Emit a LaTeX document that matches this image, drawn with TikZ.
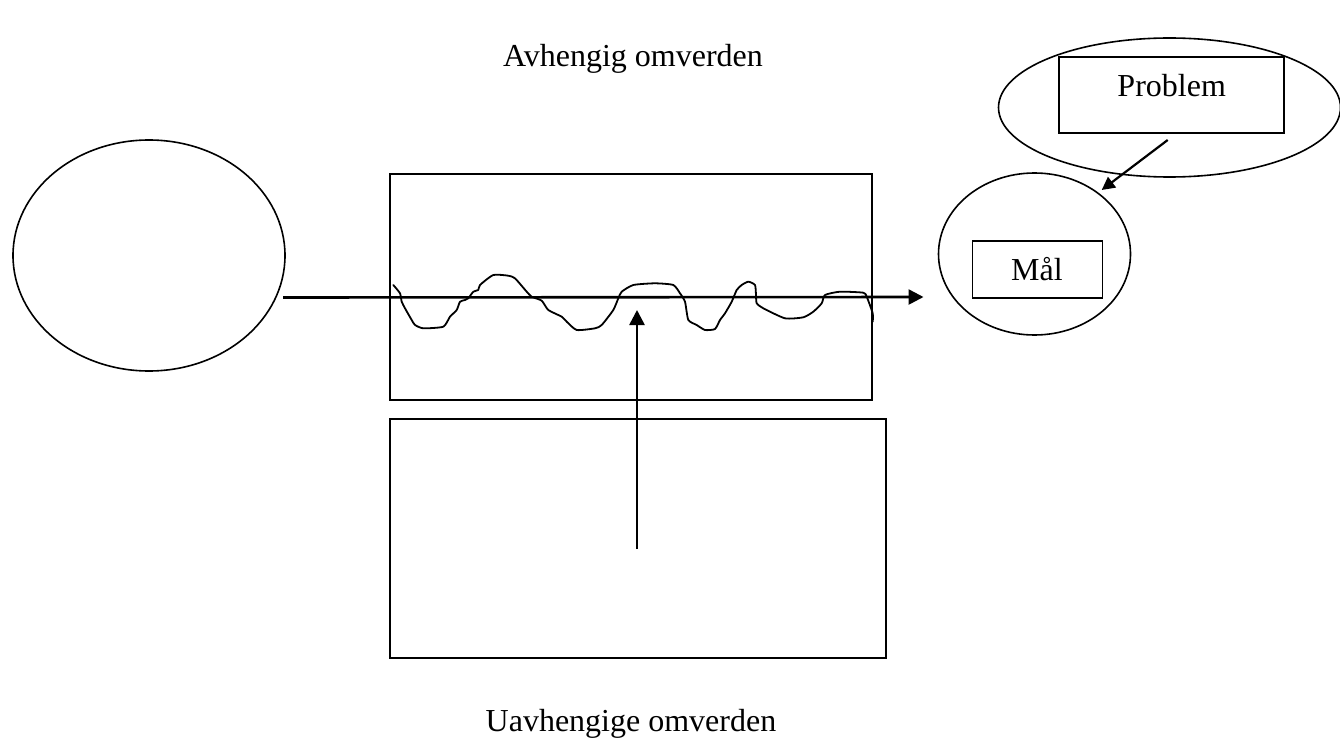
\documentclass[tikz,border=0pt]{standalone}
\usepackage{fontspec}
\setmainfont{Liberation Serif}
\usetikzlibrary{arrows.meta,shapes.geometric}
\begin{document}
\begin{tikzpicture}[x=1pt,y=-1pt,
  outline/.style={draw,line width=1.6pt,inner sep=0pt},
  oval/.style={outline,ellipse},
  box/.style={outline,rectangle},
  conn/.style={line width=2.6pt,-{Triangle[length=15pt,width=15pt]}},
  thinconn/.style={line width=2.2pt,-{Triangle[length=13pt,width=13pt]}},
  wave/.style={line width=1.8pt,line join=round,line cap=round},
  lbl/.style={font=\fontsize{32}{38}\selectfont,anchor=base,inner sep=0pt}]
\useasboundingbox (0,0) rectangle (1340,738);
% left ellipse
\node[oval,minimum width=272pt,minimum height=231pt] (src) at (149,255.5) {};
% middle boxes
\node[box,minimum width=482pt,minimum height=226pt] (upper) at (631,287) {};
\node[box,minimum width=496pt,minimum height=239pt] (lower) at (638,538.5) {};
% right side
\node[oval,minimum width=342pt,minimum height=139pt] (probov) at (1169.5,107.5) {};
\node[box,minimum width=225pt,minimum height=76pt] (probbox) at (1171.7,95.3) {};
\node[lbl] (probtxt) at (1171.7,96.7) {Problem};
\node[oval,minimum width=192pt,minimum height=162pt] (maalov) at (1034.5,254) {};
\node[box,minimum width=130pt,minimum height=57pt] (maalbox) at (1037.5,269.5) {};
\node[lbl] (maaltxt) at (1037,280.7) {Mål};
% labels
\node[lbl] (dep) at (633,67) {Avhengig omverden};
\node[lbl] (indep) at (631,731) {Uavhengige omverden};
% wavy line
\draw[wave] plot[smooth,tension=0.35] coordinates {
(393.3,285) (400,293.3) (401.7,301.7) (405,308.3) (411.7,320) (415,325)
(423.3,328.3) (443.3,326.7) (450,316.7) (456.7,310) (460,301.7) (465,300)
(468.3,298.3) (473.3,291.7) (478.3,290) (480,285) (493.3,275) (508.3,275.7)
(515,278.3) (526.7,291.7) (531.7,296.7) (541.7,300.7) (548.3,310) (561.7,316.7)
(566.7,321.7) (576.7,330) (595,328.3) (601.7,325) (613.3,310) (618.3,298.3)
(621.7,291.7) (633.3,285) (655,283.3) (673.3,285) (680,293.3) (685,301.7)
(688.3,320) (696.7,325) (705,330) (715,329) (720,320) (725,313.3)
(731.7,301.7) (736.7,290) (741.7,285) (748.3,281.7) (755,285) (756,295)
(756.7,303.3) (763.3,308.3) (785,318.3) (803.3,317.3) (813.3,311.7) (821.7,303.3)
(825,295) (840,291.7) (863.3,292.7) (866.7,296.7) (872.7,313.3) (872.7,321.7)};
% connectors
\coordinate (hstart) at (283,297.5);
\coordinate (hend) at (923.5,297);
\draw[conn] (hstart) -- (hend);
\coordinate (vstart) at (637,549);
\coordinate (vend) at (637,310);
\draw[conn] (vstart) -- (vend);
\coordinate (pstart) at (1167.7,140);
\coordinate (pend) at (1101.7,190);
\draw[thinconn] (pstart) -- (pend);
\end{tikzpicture}
\end{document}
